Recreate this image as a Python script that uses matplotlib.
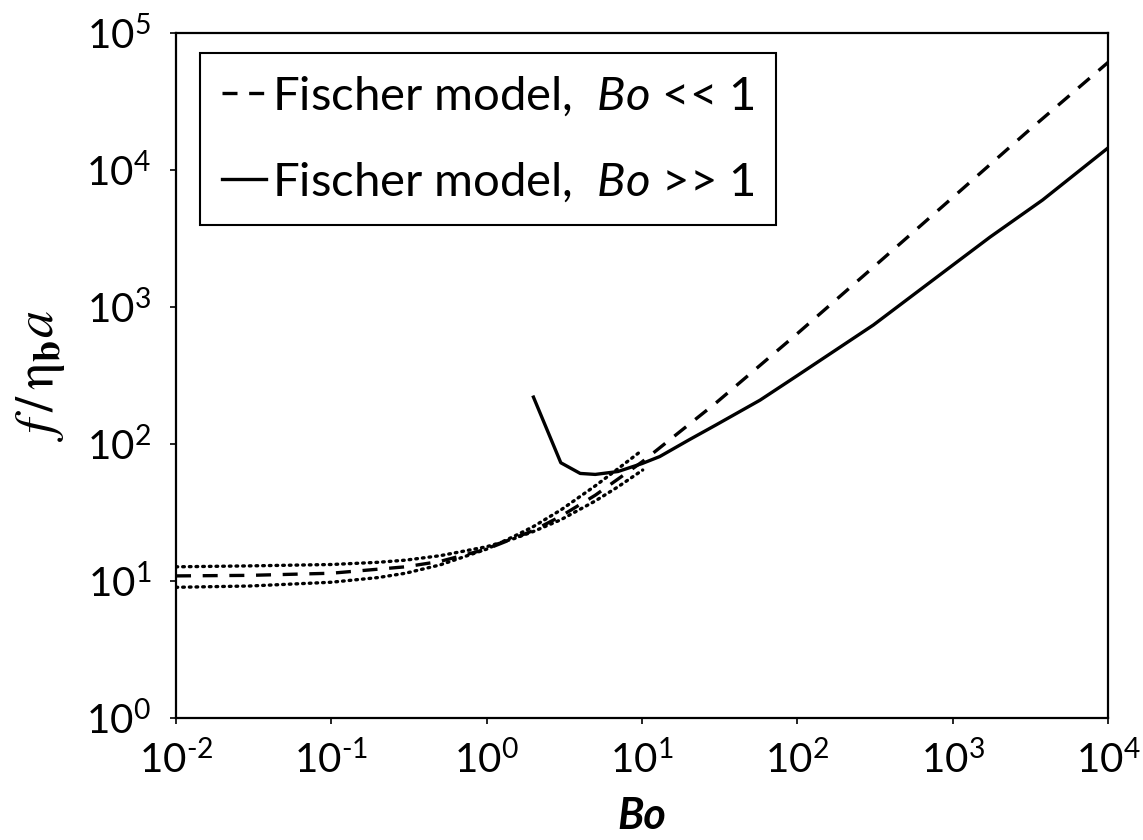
import numpy as np
import matplotlib
matplotlib.use("Agg")
import matplotlib.pyplot as plt
from matplotlib.ticker import LogLocator, FuncFormatter, NullLocator

plt.rcParams['font.family'] = ['Lato', 'DejaVu Sans']
plt.rcParams['mathtext.fontset'] = 'custom'
plt.rcParams['mathtext.rm'] = 'Lato'
plt.rcParams['mathtext.it'] = 'Lato:italic'
plt.rcParams['mathtext.bf'] = 'Lato:bold'

# values
bo_small = [0.01, 0.03, 0.1, 0.3, 0.5, 1, 2, 3, 5, 10, 30, 100, 300, 1000, 3000, 10000]
f_small = [10.9, 11.0, 11.4, 12.7, 13.9, 17.1, 23.4, 29.7, 42.3, 74, 200, 640, 1900,
           6300, 18900, 61000]

bo_large = [2, 3, 4, 5, 7, 10, 13, 20, 30, 57.5, 100, 200, 309, 500, 1000, 1740,
            3790, 10000]
f_large = [220, 73, 61, 60, 63, 72, 81, 107, 138, 209, 316, 533, 740, 1117, 2020,
           3240, 6040, 14500]

bo_dot_a = [0.01, 0.03, 0.1, 0.2, 0.3, 0.5, 1, 1.5, 2, 3, 5, 7, 10.1]
f_dot_a = [12.7, 12.9, 13.2, 13.7, 14.2, 15.3, 17.8, 20.4, 23, 28, 38.4, 48.7, 64.6]
bo_dot_b = [0.01, 0.03, 0.1, 0.2, 0.3, 0.5, 1, 1.5, 2, 3, 5, 7, 9.7]
f_dot_b = [9.0, 9.2, 9.8, 10.6, 11.4, 13.1, 17.1, 21.2, 25, 33, 49.5, 66, 87.6]


def pow10(v, pos):
    e = int(round(np.log10(v)))
    if e < 0:
        return r'$10^{\text{-%d}}$' % (-e)
    return r'$10^{%d}$' % e


fig = plt.figure(figsize=(11.43, 8.4), dpi=100)
ax = fig.add_axes([0.154, 0.1452, 0.8154, 0.8155])

ax.plot(bo_dot_a, f_dot_a, color='black', lw=2.4, linestyle=(0, (0.5, 1.5)),
        dash_capstyle='round')
ax.plot(bo_dot_b, f_dot_b, color='black', lw=2.4, linestyle=(0, (0.5, 1.5)),
        dash_capstyle='round')
ax.plot(bo_small, f_small, color='black', lw=2.4, linestyle=(0, (4.5, 3.5)),
        label=r'Fischer model,  $\mathit{Bo}$ << 1')
ax.plot(bo_large, f_large, color='black', lw=2.4, linestyle='-',
        label=r'Fischer model,  $\mathit{Bo}$ >> 1')

ax.set_xscale('log')
ax.set_yscale('log')
ax.set_xlim(1e-2, 1e4)
ax.set_ylim(1e0, 1e5)
ax.xaxis.set_major_locator(LogLocator(base=10, numticks=10))
ax.yaxis.set_major_locator(LogLocator(base=10, numticks=10))
ax.xaxis.set_minor_locator(NullLocator())
ax.yaxis.set_minor_locator(NullLocator())
ax.xaxis.set_major_formatter(FuncFormatter(pow10))
ax.yaxis.set_major_formatter(FuncFormatter(pow10))
ax.tick_params(axis='both', labelsize=29, direction='out', length=4, width=1.2)
ax.tick_params(axis='x', pad=12)
ax.tick_params(axis='y', pad=14)
for s in ax.spines.values():
    s.set_linewidth(1.6)

ax.set_xlabel('Bo', fontsize=31, fontweight='bold', fontstyle='italic',
              labelpad=11)
ax.set_ylabel(r'$f\,/\,\mathrm{\eta}_{\mathbf{b}}a$', fontsize=39,
              math_fontfamily='stix', labelpad=14)

leg = ax.legend(loc='upper left', bbox_to_anchor=(0.026, 0.971), fontsize=34,
                frameon=True, fancybox=False, edgecolor='black', framealpha=1,
                handlelength=0.95, handletextpad=0.12, labelspacing=0.9,
                borderpad=0.45, borderaxespad=0)
leg.get_frame().set_linewidth(1.5)

fig.savefig('out.png', dpi=100)
